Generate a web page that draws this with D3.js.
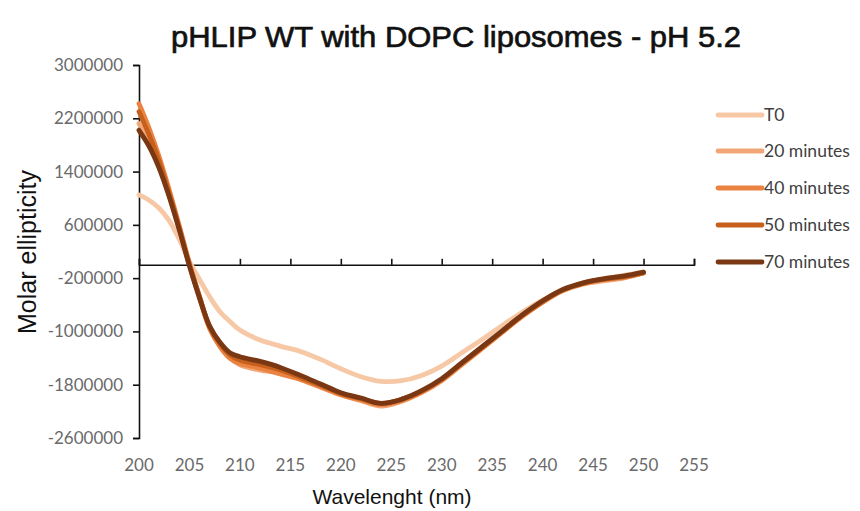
<!DOCTYPE html>
<html>
<head>
<meta charset="utf-8">
<script src="https://cdn.jsdelivr.net/npm/d3@7"></script>
<style>
  body { margin: 0; background: #fff; }
  svg { display: block; }
</style>
</head>
<body>
<div id="chart"></div>
<script>
// wavelengths (nm)
var wavelengths = [200, 201, 202, 203, 204, 205, 206, 207, 208, 209, 210, 212, 214, 216, 218, 220, 222, 224, 226, 228, 230, 232, 234, 236, 238, 240, 242, 244, 246, 248, 250];

// molar ellipticity, in millions
var t0    = [1.05, 0.97, 0.85, 0.66, 0.38, 0.05, -0.22, -0.48, -0.70, -0.85, -0.98, -1.13, -1.22, -1.30, -1.42, -1.56, -1.68, -1.75, -1.74, -1.66, -1.52, -1.32, -1.12, -0.91, -0.71, -0.53, -0.38, -0.28, -0.21, -0.16, -0.11];
var min20 = [2.12, 1.85, 1.50, 1.04, 0.54, 0.00, -0.50, -0.96, -1.22, -1.40, -1.50, -1.58, -1.62, -1.72, -1.84, -1.95, -2.04, -2.12, -2.05, -1.92, -1.74, -1.50, -1.26, -1.01, -0.77, -0.56, -0.39, -0.29, -0.24, -0.20, -0.12];
var min40 = [2.42, 2.05, 1.62, 1.12, 0.58, 0.02, -0.48, -0.95, -1.22, -1.40, -1.48, -1.55, -1.64, -1.72, -1.83, -1.95, -2.03, -2.10, -2.04, -1.91, -1.73, -1.49, -1.25, -1.01, -0.77, -0.56, -0.38, -0.28, -0.22, -0.19, -0.12];
var min50 = [2.30, 1.95, 1.55, 1.07, 0.55, 0.00, -0.48, -0.93, -1.18, -1.35, -1.43, -1.50, -1.58, -1.69, -1.81, -1.93, -2.01, -2.08, -2.02, -1.90, -1.72, -1.48, -1.24, -1.00, -0.76, -0.55, -0.38, -0.28, -0.22, -0.18, -0.12];
var min70 = [2.02, 1.78, 1.45, 1.02, 0.52, -0.02, -0.50, -0.92, -1.16, -1.32, -1.38, -1.45, -1.54, -1.66, -1.79, -1.92, -2.00, -2.08, -2.02, -1.89, -1.71, -1.47, -1.23, -0.99, -0.75, -0.54, -0.37, -0.27, -0.21, -0.17, -0.11];

var seriesNames = ["T0", "20 minutes", "40 minutes", "50 minutes", "70 minutes"];
var seriesValues = [t0, min20, min40, min50, min70];
var colors = ["#f6c8a6", "#f2a677", "#ea8241", "#c8601d", "#7a3713"];

var yTicks = [3000000, 2200000, 1400000, 600000, -200000, -1000000, -1800000, -2600000];
var xTicks = [200, 205, 210, 215, 220, 225, 230, 235, 240, 245, 250, 255];

var width = 860, height = 511;

var svg = d3.select("#chart")
    .append("svg")
    .attr("width", width)
    .attr("height", height);

var x = d3.scaleLinear().domain([200, 255]).range([139, 694]);
var y = d3.scaleLinear().domain([-2600000, 3000000]).range([438, 65]);

// title (narrow, heavy-ish look)
svg.append("text")
    .attr("x", 456)
    .attr("y", 47)
    .attr("text-anchor", "middle")
    .attr("font-family", "'Liberation Sans Narrow', 'Liberation Sans', Arial, sans-serif")
    .attr("font-size", 30)
    .attr("textLength", 570)
    .attr("lengthAdjust", "spacingAndGlyphs")
    .attr("fill", "#111")
    .attr("stroke", "#111")
    .attr("stroke-width", 0.7)
    .text("pHLIP WT with DOPC liposomes - pH 5.2");

// y axis
var yAxis = svg.append("g")
    .attr("transform", "translate(" + x(200) + ",0)")
    .call(d3.axisLeft(y).tickValues(yTicks).tickSize(6).tickFormat(d3.format("d")));
yAxis.select(".domain").attr("stroke", "#111").attr("stroke-width", 1.6);
yAxis.selectAll(".tick line").attr("stroke", "#111").attr("stroke-width", 1.6);
yAxis.selectAll(".tick text")
    .attr("x", -16)
    .attr("font-family", "Lato, 'Open Sans', sans-serif")
    .attr("font-size", 17)
    .attr("fill", "#6a6a6a")
    .text(function (d) { return d3.format("d")(d).replace("−", "-"); });

// x axis drawn at zero, labels sit below the plot
var xAxis = svg.append("g")
    .attr("transform", "translate(0," + y(0) + ")")
    .call(d3.axisTop(x).tickValues(xTicks).tickSize(6).tickFormat(""));
xAxis.select(".domain").attr("stroke", "#111").attr("stroke-width", 1.6);
xAxis.selectAll(".tick line").attr("stroke", "#111").attr("stroke-width", 1.6);

svg.append("g")
    .selectAll("text")
    .data(xTicks)
    .join("text")
    .attr("x", d => x(d))
    .attr("y", 471)
    .attr("text-anchor", "middle")
    .attr("font-family", "Lato, 'Open Sans', sans-serif")
    .attr("font-size", 17)
    .attr("fill", "#6a6a6a")
    .text(d => d);

// axis titles
svg.append("text")
    .attr("x", 392)
    .attr("y", 504)
    .attr("text-anchor", "middle")
    .attr("font-family", "'Liberation Sans', Arial, sans-serif")
    .attr("font-size", 21)
    .attr("fill", "#111")
    .text("Wavelenght (nm)");

svg.append("text")
    .attr("transform", "translate(36,252) rotate(-90)")
    .attr("text-anchor", "middle")
    .attr("font-family", "'Liberation Sans', Arial, sans-serif")
    .attr("font-size", 25)
    .attr("fill", "#111")
    .text("Molar ellipticity");

// lines
var line = d3.line()
    .x(d => x(d[0]))
    .y(d => y(d[1] * 1000000))
    .curve(d3.curveCatmullRom.alpha(0.5));

seriesValues.forEach(function (vals, i) {
    svg.append("path")
        .datum(wavelengths.map((w, j) => [w, vals[j]]))
        .attr("fill", "none")
        .attr("stroke", colors[i])
        .attr("stroke-width", 4.8)
        .attr("stroke-linecap", "round")
        .attr("stroke-linejoin", "round")
        .attr("d", line);
});

// legend
var legend = svg.append("g");
var rowY = [115, 151, 188, 225, 262];
seriesNames.forEach(function (name, i) {
    legend.append("line")
        .attr("x1", 718).attr("x2", 762)
        .attr("y1", rowY[i]).attr("y2", rowY[i])
        .attr("stroke", colors[i])
        .attr("stroke-width", 4.8)
        .attr("stroke-linecap", "round");
    legend.append("text")
        .attr("x", 764)
        .attr("y", rowY[i] + 6)
        .attr("font-family", "Lato, 'Open Sans', sans-serif")
        .attr("font-size", 17.5)
        .attr("fill", "#404040")
        .text(name);
});
</script>
</body>
</html>
